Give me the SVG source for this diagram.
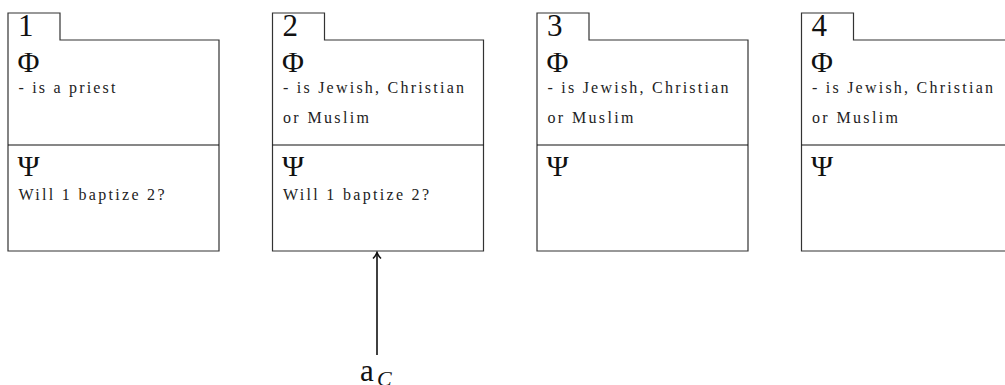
<svg xmlns="http://www.w3.org/2000/svg" width="1005" height="385" viewBox="0 0 1005 385">
  <style>
    .frame { fill: #ffffff; stroke: #333333; stroke-width: 1.2; }
    .rule { stroke: #111111; stroke-width: 1.2; }
    .num { font-family: "Liberation Serif", serif; font-size: 31px; fill: #111111; }
    .sym { font-family: "Liberation Serif", serif; font-size: 30px; fill: #111111; }
    .txt { font-family: "Liberation Serif", serif; font-size: 16px; fill: #222222; }
    .lbl { font-family: "Liberation Serif", serif; font-size: 31px; fill: #111111; }
    .sub { font-family: "Liberation Serif", serif; font-size: 22px; font-style: italic; fill: #111111; }
    .conn { stroke: #111111; stroke-width: 1.6; fill: none; }
  </style>
  <defs>
    <path id="card" d="M0,238 V0 H52 V27 H211 V238 Z"/>
    <marker id="tip" markerWidth="12" markerHeight="12" refX="10" refY="6" orient="auto" markerUnits="userSpaceOnUse">
      <path d="M4,2 Q7,5 10,6 Q7,7 4,10" fill="none" stroke="#111111" stroke-width="1.5"/>
    </marker>
  </defs>
  <rect width="1005" height="385" fill="#ffffff"/>

  <!-- Card 1 -->
  <g id="node1" transform="translate(8,13)">
    <use href="#card" class="frame"/>
    <line class="rule" x1="0" y1="132" x2="211" y2="132"/>
    <text class="num" x="10" y="23">1</text>
    <text class="sym" x="9.5" y="59">Φ</text>
    <text class="txt" x="10.5" y="80" textLength="97" lengthAdjust="spacing">- is a priest</text>
    <text class="sym" x="9.5" y="163">Ψ</text>
    <text class="txt" x="10.5" y="187" textLength="146" lengthAdjust="spacing">Will 1 baptize 2?</text>
  </g>

  <!-- Card 2 -->
  <g id="node2" transform="translate(272.5,13)">
    <use href="#card" class="frame"/>
    <line class="rule" x1="0" y1="132" x2="211" y2="132"/>
    <text class="num" x="10" y="23">2</text>
    <text class="sym" x="9.5" y="59">Φ</text>
    <text class="txt" x="10.5" y="80" textLength="181" lengthAdjust="spacing">- is Jewish, Christian</text>
    <text class="txt" x="10.5" y="110" textLength="86" lengthAdjust="spacing">or Muslim</text>
    <text class="sym" x="9.5" y="163">Ψ</text>
    <text class="txt" x="10.5" y="187" textLength="146" lengthAdjust="spacing">Will 1 baptize 2?</text>
  </g>

  <!-- Card 3 -->
  <g id="node3" transform="translate(537,13)">
    <use href="#card" class="frame"/>
    <line class="rule" x1="0" y1="132" x2="211" y2="132"/>
    <text class="num" x="10" y="23">3</text>
    <text class="sym" x="9.5" y="59">Φ</text>
    <text class="txt" x="10.5" y="80" textLength="181" lengthAdjust="spacing">- is Jewish, Christian</text>
    <text class="txt" x="10.5" y="110" textLength="86" lengthAdjust="spacing">or Muslim</text>
    <text class="sym" x="9.5" y="163">Ψ</text>
  </g>

  <!-- Card 4 (runs past the right edge) -->
  <g id="node4" transform="translate(801.5,13)">
    <use href="#card" class="frame"/>
    <line class="rule" x1="0" y1="132" x2="211" y2="132"/>
    <text class="num" x="10" y="23">4</text>
    <text class="sym" x="9.5" y="59">Φ</text>
    <text class="txt" x="10.5" y="80" textLength="181" lengthAdjust="spacing">- is Jewish, Christian</text>
    <text class="txt" x="10.5" y="110" textLength="86" lengthAdjust="spacing">or Muslim</text>
    <text class="sym" x="9.5" y="163">Ψ</text>
  </g>

  <!-- Action label -->
  <g id="actionC">
    <text class="lbl" x="360" y="381">a</text>
    <text class="sub" x="377" y="386">C</text>
  </g>

  <!-- Connectors -->
  <g id="connectors">
    <line class="conn" x1="377" y1="355" x2="377" y2="252.5" marker-end="url(#tip)"/>
  </g>
</svg>
